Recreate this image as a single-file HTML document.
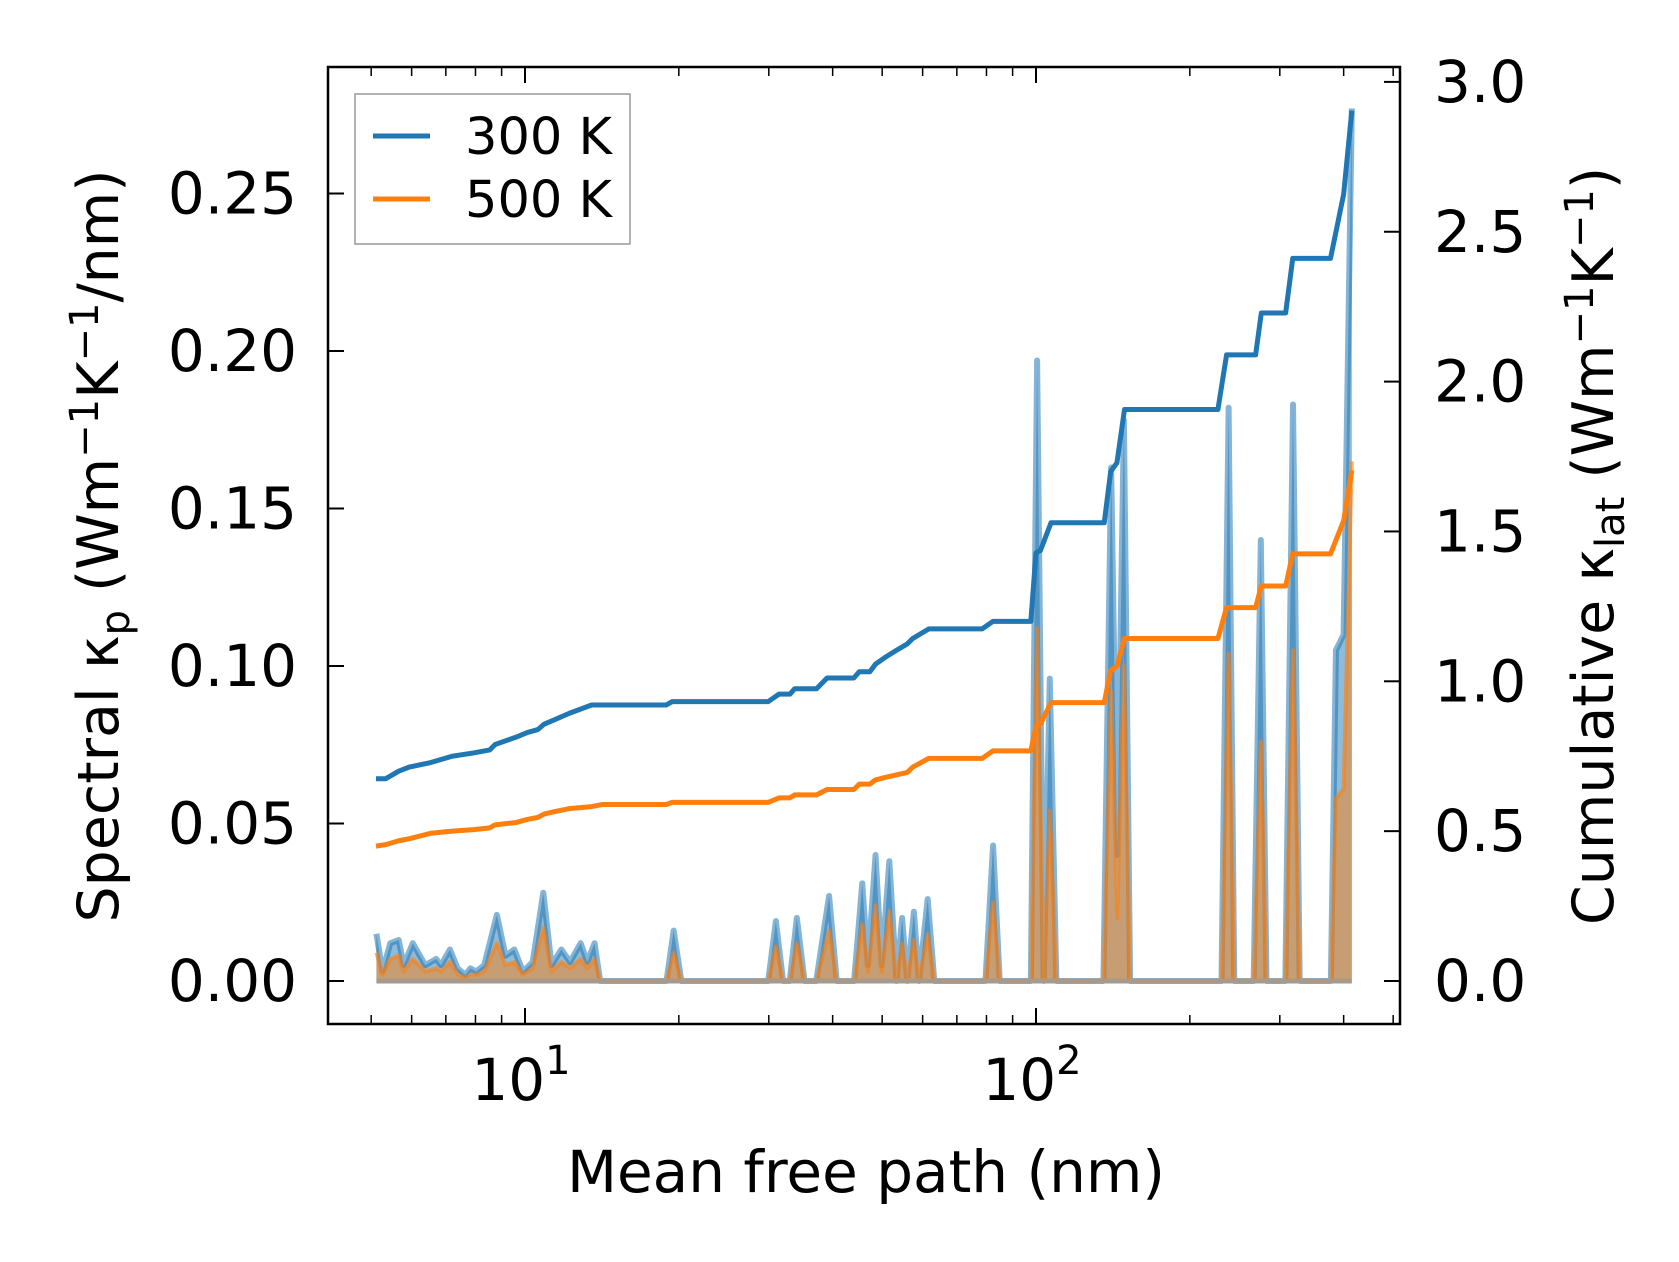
<!DOCTYPE html>
<html><head><meta charset="utf-8"><style>
html,body{margin:0;padding:0;background:#fff;}
svg{display:block;font-family:"DejaVu Sans","Liberation Sans",sans-serif;}
</style></head><body>
<svg id="chart" width="1679" height="1262" viewBox="0 0 1679 1262" xmlns="http://www.w3.org/2000/svg">
<g id="fills"></g>
<g id="lines"></g>
<g id="axes"></g>
<rect x="328" y="67" width="1072" height="957" fill="none" stroke="#000" stroke-width="2.5"/>
<g>
<rect x="355" y="94" width="275" height="150" fill="#fff" fill-opacity="0.8" stroke="#999" stroke-width="1.5"/>
<line x1="373" y1="136" x2="430" y2="136" stroke="#1f77b4" stroke-width="5"/>
<text x="465" y="154" font-size="51">300 K</text>
<line x1="373" y1="199" x2="430" y2="199" stroke="#ff7f0e" stroke-width="5"/>
<text x="465" y="217" font-size="51">500 K</text>
</g>
<text x="866" y="1192" font-size="58" text-anchor="middle">Mean free path (nm)</text>
<text transform="translate(118,546) rotate(-90)" font-size="57" text-anchor="middle">Spectral κ<tspan font-size="40" dy="11">p</tspan><tspan dy="-11"> (Wm</tspan><tspan font-size="40" dy="-20">−1</tspan><tspan dy="20">K</tspan><tspan font-size="40" dy="-20">−1</tspan><tspan dy="20">/nm)</tspan></text>
<text transform="translate(1613,546) rotate(-90)" font-size="57" text-anchor="middle">Cumulative κ<tspan font-size="40" dy="11">lat</tspan><tspan dy="-11"> (Wm</tspan><tspan font-size="40" dy="-20">−1</tspan><tspan dy="20">K</tspan><tspan font-size="40" dy="-20">−1</tspan><tspan dy="20">)</tspan></text>
</svg>
<script>
// cumulative data
const cumMfp = [5.11,5.34,5.66,5.94,6.54,7.20,7.93,8.53,8.74,9.62,10.1,10.6,10.9,11.4,12.2,13.5,14.2,18.9,19.4,29.9,31.4,33.0,33.7,37.2,39.0,44.0,45.1,47.3,48.5,50.9,53.4,56.0,57.4,61.7,78.5,82.4,97.7,100,102,107,136,140,144,149,227,236,269,276,308,318,377,400,415];
const cum300 = [0.675,0.675,0.700,0.714,0.729,0.750,0.761,0.771,0.789,0.814,0.829,0.839,0.857,0.871,0.893,0.921,0.921,0.921,0.932,0.932,0.957,0.957,0.975,0.975,1.011,1.011,1.032,1.032,1.057,1.082,1.104,1.125,1.143,1.175,1.175,1.200,1.200,1.429,1.436,1.529,1.529,1.700,1.729,1.907,1.907,2.089,2.089,2.229,2.229,2.411,2.411,2.625,2.904];
const cum500 = [0.450,0.455,0.468,0.475,0.493,0.500,0.505,0.511,0.521,0.529,0.539,0.546,0.557,0.565,0.575,0.582,0.589,0.589,0.596,0.596,0.611,0.611,0.621,0.621,0.639,0.639,0.657,0.657,0.671,0.680,0.688,0.696,0.714,0.743,0.743,0.768,0.768,0.850,0.857,0.929,0.929,1.036,1.050,1.143,1.143,1.246,1.246,1.318,1.318,1.425,1.425,1.536,1.704];
// spectral data
const specMfp = [5.12,5.26,5.45,5.66,5.79,6.03,6.38,6.70,6.85,7.13,7.38,7.64,7.82,8.02,8.32,8.81,9.16,9.53,9.91,10.35,10.86,11.27,11.78,12.25,12.85,13.24,13.68,14.03,18.92,19.54,20.23,29.92,30.97,31.99,32.96,34.04,35.24,37.15,39.36,40.74,44.06,45.71,46.88,48.53,49.89,51.64,53.33,54.70,55.98,57.68,59.02,61.38,63.24,79.62,82.41,84.92,97.72,100.5,103.5,106.4,109.6,135.5,140.3,144.2,148.6,152.8,230.7,238.2,244.3,266.7,275.4,282.5,307.6,318.4,328.1,377.6,386.4,399.9,415.0];
const spec300 = [0.015,0.003,0.012,0.013,0.005,0.012,0.005,0.007,0.005,0.010,0.004,0.002,0.004,0.003,0.005,0.021,0.008,0.010,0.003,0.006,0.028,0.005,0.010,0.006,0.012,0.006,0.012,0,0,0.016,0,0,0.019,0,0,0.020,0,0,0.027,0,0,0.031,0.005,0.040,0.005,0.038,0,0.020,0,0.022,0,0.026,0,0,0.043,0,0,0.197,0,0.096,0,0,0.163,0.040,0.178,0,0,0.182,0,0,0.140,0,0,0.183,0,0,0.105,0.110,0.277];
const spec500 = [0.009,0.002,0.007,0.008,0.003,0.007,0.003,0.004,0.003,0.006,0.002,0.001,0.002,0.002,0.003,0.012,0.005,0.006,0.002,0.004,0.017,0.003,0.006,0.004,0.007,0.004,0.007,0,0,0.009,0,0,0.011,0,0,0.012,0,0,0.016,0,0,0.018,0.003,0.024,0.003,0.022,0,0.012,0,0.013,0,0.015,0,0,0.025,0,0,0.112,0,0.054,0,0,0.092,0.020,0.100,0,0,0.104,0,0,0.076,0,0,0.105,0,0,0.058,0.061,0.165];
const leftTicks = [0,0.05,0.10,0.15,0.20,0.25];
const leftTickLabels = ["0.00","0.05","0.10","0.15","0.20","0.25"];
const rightTicks = [0,0.5,1.0,1.5,2.0,2.5,3.0];
const rightTickLabels = ["0.0","0.5","1.0","1.5","2.0","2.5","3.0"];
const xMajor = [10,100];
const xMinor = [5,6,7,8,9,20,30,40,50,60,70,80,90,200,300,400,500];

const NS="http://www.w3.org/2000/svg";
const X=v=>525+511*(Math.log10(v)-1);
const YL=v=>981-v*3150;
const YR=v=>981-v*299.7;
function mk(tag,attrs,parent){const e=document.createElementNS(NS,tag);for(const k in attrs)e.setAttribute(k,attrs[k]);parent.appendChild(e);return e;}
const fills=document.getElementById('fills'),lines=document.getElementById('lines'),axes=document.getElementById('axes');

function areaPath(vals){let d=`M${X(specMfp[0])},${YL(0)}`;specMfp.forEach((m,i)=>{d+=` L${X(m)},${YL(vals[i])}`;});d+=` L${X(specMfp[specMfp.length-1])},${YL(0)} Z`;return d;}
function linePath(xs,vals,yf){return xs.map((m,i)=>(i?'L':'M')+X(m)+','+yf(vals[i])).join(' ');}

let e=mk('path',{d:areaPath(spec300),fill:'#1f77b4','fill-opacity':0.5},fills);


e=mk('path',{d:linePath(specMfp,spec300,YL),fill:'none',stroke:'#1f77b4','stroke-opacity':0.55,'stroke-width':6,'stroke-linejoin':'round'},fills);


e=mk('path',{d:areaPath(spec500),fill:'#ff7f0e','fill-opacity':0.5},fills);


e=mk('path',{d:linePath(specMfp,spec500,YL),fill:'none',stroke:'#ff7f0e','stroke-opacity':0.6,'stroke-width':4,'stroke-linejoin':'round'},fills);


e=mk('line',{x1:X(specMfp[0]),x2:X(specMfp[specMfp.length-1]),y1:YL(0),y2:YL(0),stroke:'#a89a8a','stroke-width':5},fills);



e=mk('path',{d:linePath(cumMfp,cum300,YR),fill:'none',stroke:'#1f77b4','stroke-width':5,'stroke-linejoin':'round'},lines);


e=mk('path',{d:linePath(cumMfp,cum500,YR),fill:'none',stroke:'#ff7f0e','stroke-width':5,'stroke-linejoin':'round'},lines);



leftTicks.forEach((v,i)=>{
  let t=mk('line',{x1:328,x2:344,y1:YL(v),y2:YL(v),stroke:'#000','stroke-width':2},axes);
  
  
  let l=mk('text',{x:297,y:YL(v)+20,'font-size':58,'text-anchor':'end'},axes);l.textContent=leftTickLabels[i];
  
  
});
rightTicks.forEach((v,i)=>{
  let t=mk('line',{x1:1384,x2:1400,y1:YR(v),y2:YR(v),stroke:'#000','stroke-width':2},axes);
  
  
  let l=mk('text',{x:1434,y:YR(v)+20,'font-size':58},axes);l.textContent=rightTickLabels[i];
  
  
});
xMajor.forEach((v,i)=>{
  [[1024,1008],[67,83]].forEach(([a,b])=>{let t=mk('line',{x1:X(v),x2:X(v),y1:a,y2:b,stroke:'#000','stroke-width':2},axes);
  
  });
  let l=mk('text',{x:X(v)-4,y:1100,'font-size':58,'text-anchor':'middle'},axes);
  l.innerHTML='10<tspan font-size="40" dy="-26">'+(i+1)+'</tspan>';
  
  
});
xMinor.forEach(v=>{
  [[1024,1015],[67,76]].forEach(([a,b])=>{let t=mk('line',{x1:X(v),x2:X(v),y1:a,y2:b,stroke:'#000','stroke-width':1.5},axes);
  
  });
});
</script>
</body></html>
